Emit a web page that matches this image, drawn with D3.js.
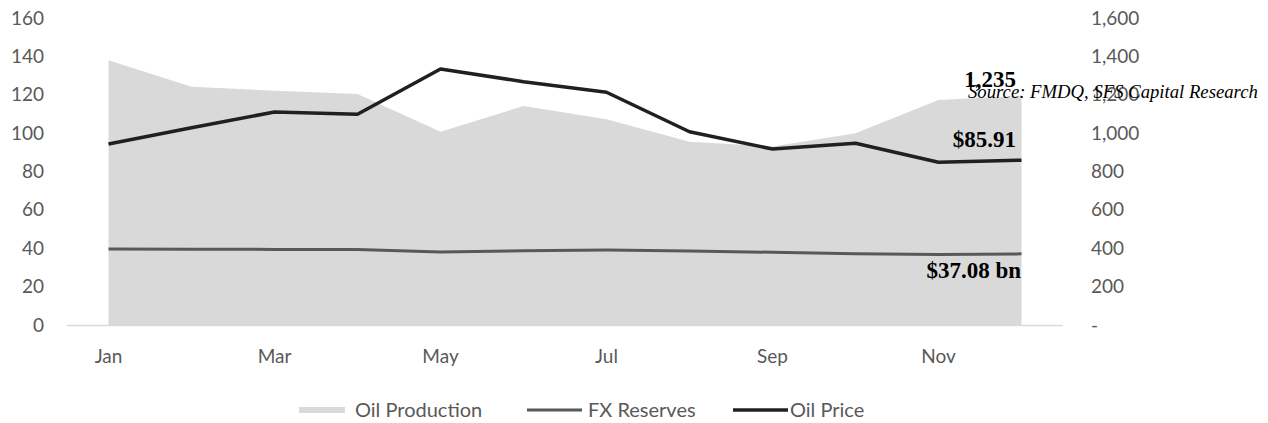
<!DOCTYPE html>
<html>
<head>
<meta charset="utf-8">
<script src="https://cdn.jsdelivr.net/npm/d3@7"></script>
<style>
  body { margin: 0; background: #fff; }
  svg { display: block; }
</style>
</head>
<body>
<svg width="1268" height="423"></svg>
<script>
// data
var months = ["Jan","Feb","Mar","Apr","May","Jun","Jul","Aug","Sep","Oct","Nov","Dec"];
var oilProduction = [1380, 1242, 1221, 1204, 1007, 1141, 1072, 955, 930, 999, 1172, 1195];
var fxReserves = [39.6, 39.5, 39.4, 39.4, 38.0, 38.7, 39.1, 38.6, 37.9, 37.1, 36.8, 37.08];
var oilPrice = [94.3, 102.8, 111.0, 109.8, 133.4, 126.8, 121.3, 100.7, 91.7, 94.7, 84.8, 85.91];
var leftTicks = [0, 20, 40, 60, 80, 100, 120, 140, 160];
var rightTicks = [0, 200, 400, 600, 800, 1000, 1200, 1400, 1600];
var seriesNames = ["Oil Production", "FX Reserves", "Oil Price"];
var endLabels = ["1,235", "$85.91", "$37.08 bn"];
var sourceNote = "Source: FMDQ, SFS Capital Research";

var svg = d3.select("svg");
var axisFont = "Lato, 'Noto Sans', sans-serif";
var serif = "'Liberation Serif', 'DejaVu Serif', serif";

var x = d3.scaleBand().domain(months).range([67, 1063]);
var yL = d3.scaleLinear().domain([0, 160]).range([325, 18]);
var yR = d3.scaleLinear().domain([0, 1600]).range([325, 18]);
function cx(m) { return x(m) + x.bandwidth() / 2; }

// area: oil production (right axis)
var area = d3.area()
  .x(function(d, i){ return cx(months[i]); })
  .y0(yR(0))
  .y1(function(d){ return yR(d); });
svg.append("path").datum(oilProduction)
  .attr("d", area)
  .attr("fill", "#d9d9d9");

// category axis baseline
svg.append("line")
  .attr("x1", 67).attr("x2", 1063)
  .attr("y1", yL(0) + 0.5).attr("y2", yL(0) + 0.5)
  .attr("stroke", "#d9d9d9").attr("stroke-width", 1.5);

var line = function(scale) {
  return d3.line()
    .x(function(d, i){ return cx(months[i]); })
    .y(function(d){ return scale(d); });
};

svg.append("path").datum(fxReserves)
  .attr("d", line(yL))
  .attr("fill", "none").attr("stroke", "#595959").attr("stroke-width", 3);

svg.append("path").datum(oilPrice)
  .attr("d", line(yL))
  .attr("fill", "none").attr("stroke", "#231f20").attr("stroke-width", 3.5)
  .attr("stroke-linejoin", "round");

// left axis
var gL = svg.append("g").attr("transform", "translate(44,0)")
  .call(d3.axisLeft(yL).tickValues(leftTicks).tickSize(0).tickPadding(0));
// right axis
var gR = svg.append("g").attr("transform", "translate(1091,0)")
  .call(d3.axisRight(yR).tickValues(rightTicks).tickSize(0).tickPadding(0)
    .tickFormat(function(d){ return d === 0 ? "-" : d3.format(",")(d); }));
// bottom axis
var gB = svg.append("g").attr("transform", "translate(0,357)")
  .call(d3.axisBottom(x).tickValues(months.filter(function(d, i){ return i % 2 === 0; }))
    .tickSize(0).tickPadding(0));

[gL, gR, gB].forEach(function(g) {
  g.select(".domain").remove();
  g.selectAll("text")
    .attr("fill", "#595959")
    .style("font-family", axisFont)
    .style("font-size", "19px");
});
gB.selectAll("text").attr("dy", "0.32em");

// end-of-series labels
var labelY = [yR(1235) - 1, yL(85.91) - 13, yL(37.08) + 24];
var labelX = [1016, 1016, 1021];
svg.selectAll("text.endlab").data(endLabels).join("text")
  .attr("class", "endlab")
  .attr("x", function(d, i){ return labelX[i]; })
  .attr("y", function(d, i){ return labelY[i]; })
  .attr("text-anchor", "end")
  .style("font-family", serif)
  .style("font-weight", "bold")
  .style("font-size", "23px")
  .attr("fill", "#000")
  .text(function(d){ return d; });

svg.append("text")
  .attr("x", 968).attr("y", 98)
  .style("font-family", serif)
  .style("font-style", "italic")
  .style("font-size", "18.7px")
  .attr("fill", "#000")
  .text(sourceNote);

// legend
var legend = svg.append("g").style("font-family", axisFont).style("font-size", "20px");
legend.append("rect").attr("x", 299).attr("y", 407).attr("width", 46).attr("height", 6).attr("fill", "#d9d9d9");
legend.append("line").attr("x1", 527).attr("x2", 582).attr("y1", 410).attr("y2", 410)
  .attr("stroke", "#595959").attr("stroke-width", 3);
legend.append("line").attr("x1", 733).attr("x2", 788).attr("y1", 410).attr("y2", 410)
  .attr("stroke", "#231f20").attr("stroke-width", 3.5);
var legendX = [355, 588, 790];
legend.selectAll("text").data(seriesNames).join("text")
  .attr("x", function(d, i){ return legendX[i]; })
  .attr("y", 410).attr("dy", "0.35em")
  .attr("fill", "#595959")
  .text(function(d){ return d; });
</script>
</body>
</html>
